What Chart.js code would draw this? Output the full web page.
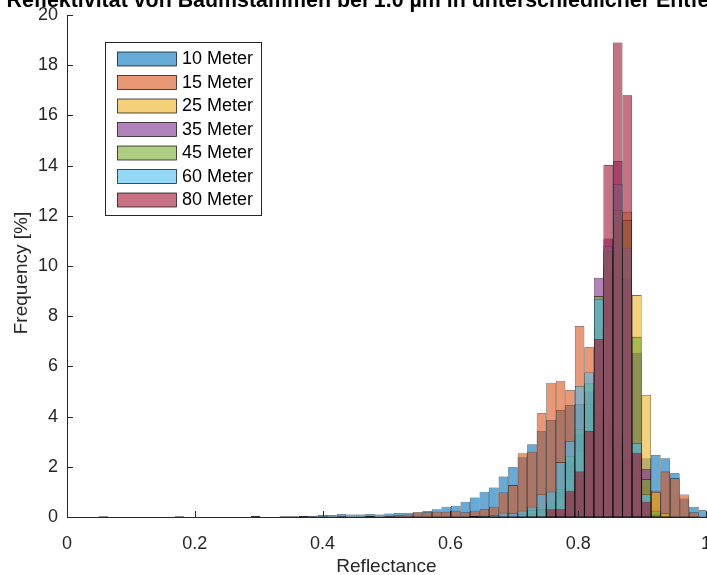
<!DOCTYPE html>
<html>
<head>
<meta charset="utf-8">
<script src="https://cdn.jsdelivr.net/npm/chart.js@4.4.0/dist/chart.umd.min.js"></script>
<style>
  html, body { margin: 0; padding: 0; background: #ffffff; }
  #wrap { width: 707px; height: 575px; }
</style>
</head>
<body>
<div id="wrap"><canvas id="chart" width="707" height="575"></canvas></div>
<script>
// Histogram (pdf-normalised) of trunk reflectance at 1.0 µm, one series per distance.
const titleText = 'Reflektivität von Baumstämmen bei 1.0 µm in unterschiedlicher Entfernung';
const xLabel = 'Reflectance';
const yLabel = 'Frequency [%]';
const seriesLabels = ['10 Meter', '15 Meter', '25 Meter', '35 Meter', '45 Meter', '60 Meter', '80 Meter'];

// Shared bin layout: 64 bins, first left edge and width
const binStart = 0.04925;
const binWidth = 0.01491;

// Bin heights, from the lowest reflectance bin to the highest
const freq10m = [
  0.03, 0, 0, 0, 0, 0, 0, 0,
  0.03, 0, 0, 0, 0, 0, 0, 0,
  0.04, 0, 0, 0.03, 0.03, 0.04, 0.05, 0.08,
  0.08, 0.12, 0.10, 0.10, 0.12, 0.10, 0.14, 0.16,
  0.17, 0.18, 0.24, 0.31, 0.41, 0.45, 0.61, 0.78,
  1.01, 1.18, 1.61, 1.98, 2.38, 2.90, 3.43, 3.86,
  4.26, 4.46, 4.50, 4.50, 4.20, 3.80, 3.30, 2.90,
  2.50, 2.34, 2.47, 2.34, 1.74, 0.74, 0.41, 0.28
];
const freq15m = [
  0, 0, 0, 0, 0, 0, 0, 0,
  0, 0, 0, 0, 0, 0, 0, 0,
  0, 0, 0, 0, 0, 0.02, 0, 0.02,
  0, 0.03, 0, 0, 0.04, 0, 0.05, 0.07,
  0.10, 0.19, 0.19, 0.21, 0.21, 0.25, 0.19, 0.25,
  0.31, 0.41, 0.98, 1.27, 2.54, 2.60, 4.13, 5.35,
  5.43, 5.06, 7.61, 6.76, 5.00, 4.00, 3.00, 2.30,
  1.60, 1.20, 1.05, 1.81, 1.54, 0.90, 0.19, 0
];
const freq25m = [
  0, 0, 0, 0, 0, 0, 0, 0,
  0, 0, 0, 0, 0, 0, 0, 0,
  0, 0, 0, 0, 0, 0, 0, 0,
  0, 0, 0, 0, 0, 0, 0, 0,
  0, 0, 0, 0, 0, 0, 0, 0,
  0, 0, 0, 0, 0, 0.10, 0.20, 0.40,
  0.80, 1.50, 2.60, 4.50, 7.50, 10.00, 11.80, 12.16,
  8.84, 4.86, 0.98, 0.15, 0, 0, 0, 0
];
const freq35m = [
  0, 0, 0, 0, 0, 0, 0, 0,
  0, 0, 0, 0, 0, 0, 0, 0,
  0, 0, 0, 0, 0, 0, 0, 0,
  0, 0, 0, 0, 0, 0, 0, 0,
  0, 0, 0, 0, 0, 0, 0, 0,
  0, 0, 0, 0, 0, 0.15, 0.28, 0.55,
  1.05, 2.20, 3.30, 5.00, 9.53, 11.10, 14.18, 9.50,
  6.52, 1.90, 0.10, 0, 0, 0, 0, 0
];
const freq45m = [
  0, 0, 0, 0, 0, 0, 0, 0,
  0, 0, 0, 0, 0, 0, 0, 0,
  0, 0, 0, 0, 0, 0, 0, 0,
  0, 0, 0, 0, 0, 0, 0, 0,
  0, 0, 0, 0, 0, 0, 0, 0,
  0, 0, 0, 0, 0.10, 0.28, 0.32, 0.61,
  1.10, 2.43, 3.49, 5.33, 8.80, 10.60, 12.23, 11.83,
  7.18, 1.50, 0.25, 0, 0, 0, 0, 0
];
const freq60m = [
  0, 0, 0, 0, 0, 0, 0, 0,
  0, 0, 0, 0, 0, 0, 0, 0,
  0, 0, 0, 0, 0, 0, 0, 0,
  0, 0, 0, 0, 0, 0, 0, 0,
  0, 0, 0, 0, 0, 0, 0, 0.04,
  0.05, 0.07, 0.17, 0.15, 0.25, 0.41, 0.90, 1.01,
  2.18, 3.03, 5.22, 5.76, 8.67, 10.80, 13.27, 10.73,
  2.94, 0.90, 0, 0, 0, 0, 0, 0
];
const freq80m = [
  0, 0, 0, 0, 0, 0, 0, 0,
  0, 0, 0, 0, 0, 0, 0, 0,
  0, 0, 0, 0, 0, 0, 0, 0,
  0, 0, 0, 0, 0, 0, 0, 0,
  0, 0, 0, 0, 0, 0, 0, 0,
  0, 0, 0, 0, 0, 0, 0, 0.31,
  0.31, 1.05, 1.81, 3.43, 7.08, 14.02, 18.90, 16.80,
  2.56, 0.61, 0, 0, 0, 0, 0, 0
];
const seriesFreqs = [freq10m, freq15m, freq25m, freq35m, freq45m, freq60m, freq80m];

// Axis ticks
const xTickValues = [0, 0.2, 0.4, 0.6, 0.8, 1];
const yTickValues = [0, 2, 4, 6, 8, 10, 12, 14, 16, 18, 20];

// Styling
const FONT = "'Liberation Sans', Arial, Helvetica, sans-serif";
const AXIS_COLOR = '#262626';
const FACE_ALPHA = 0.6;
const baseColors = [
  [0, 114, 189], [217, 83, 25], [237, 177, 32], [126, 47, 142],
  [119, 172, 48], [77, 190, 238], [162, 20, 47]
];
const faceColors = baseColors.map(c => `rgba(${c[0]},${c[1]},${c[2]},${FACE_ALPHA})`);
const EDGE_COLOR = 'rgba(0,0,0,0.8)';

const datasets = seriesFreqs.map((vals, k) => ({
  label: seriesLabels[k],
  data: vals.map((v, i) => ({ x: binStart + (i + 0.5) * binWidth, y: v })),
  backgroundColor: faceColors[k],
  borderColor: EDGE_COLOR,
  borderWidth: 0.6,
  borderSkipped: false,
  inflateAmount: 0,
  barPercentage: 1,
  categoryPercentage: 1,
  grouped: false,
  order: seriesFreqs.length - 1 - k,   // later distances are painted on top
  clip: 0
}));

// Inward tick marks on the left and bottom axes
const innerTicks = {
  id: 'innerTicks',
  afterDatasetsDraw(chart) {
    const { ctx, chartArea: a, scales: { x, y } } = chart;
    ctx.save();
    ctx.strokeStyle = AXIS_COLOR;
    ctx.lineWidth = 1;
    ctx.beginPath();
    yTickValues.forEach(v => {
      const py = Math.round(y.getPixelForValue(v)) + 0.5;
      ctx.moveTo(a.left, py);
      ctx.lineTo(a.left + 6, py);
    });
    xTickValues.forEach(v => {
      const px = Math.round(x.getPixelForValue(v)) + 0.5;
      ctx.moveTo(px, a.bottom);
      ctx.lineTo(px, a.bottom - 6);
    });
    ctx.stroke();
    ctx.restore();
  }
};

// Boxed legend in the upper left of the plot area
const boxedLegend = {
  id: 'boxedLegend',
  afterDraw(chart) {
    const { ctx } = chart;
    const left = 105.5, top = 42.5, w = 156, h = 173;
    const rowTop = 59, rowStep = 23.5, swH = 14;
    ctx.save();
    ctx.fillStyle = '#ffffff';
    ctx.fillRect(left, top, w, h);
    ctx.strokeStyle = AXIS_COLOR;
    ctx.lineWidth = 1;
    ctx.strokeRect(left, top, w, h);
    ctx.font = `18px ${FONT}`;
    ctx.textBaseline = 'middle';
    ctx.textAlign = 'left';
    seriesLabels.forEach((lab, k) => {
      const cy = rowTop + k * rowStep;
      ctx.fillStyle = faceColors[k];
      ctx.fillRect(117.5, cy - swH / 2, 59, swH);
      ctx.strokeStyle = 'rgba(0,0,0,0.85)';
      ctx.lineWidth = 0.8;
      ctx.strokeRect(117.5, cy - swH / 2, 59, swH);
      ctx.fillStyle = '#000000';
      ctx.fillText(lab, 182, cy + 0.5);
    });
    ctx.restore();
  }
};

// Title running past the top and right edges, plus the rotated y-axis label
const figureText = {
  id: 'figureText',
  afterDraw(chart) {
    const { ctx } = chart;
    ctx.save();
    ctx.font = `bold 21.4px ${FONT}`;
    ctx.fillStyle = '#000000';
    ctx.textAlign = 'left';
    ctx.textBaseline = 'alphabetic';
    ctx.fillText(titleText, 6.5, 6.5);
    ctx.restore();

    ctx.save();
    ctx.translate(27, 273);
    ctx.rotate(-Math.PI / 2);
    ctx.font = `19px ${FONT}`;
    ctx.fillStyle = AXIS_COLOR;
    ctx.textAlign = 'center';
    ctx.textBaseline = 'alphabetic';
    ctx.fillText(yLabel, 0, 0);
    ctx.restore();
  }
};

new Chart(document.getElementById('chart'), {
  type: 'bar',
  data: { datasets },
  options: {
    responsive: false,
    animation: false,
    devicePixelRatio: 1,
    layout: { padding: { top: 15, right: 1, left: 0, bottom: 0 } },
    plugins: {
      legend: { display: false },
      tooltip: { enabled: false },
      title: { display: false }
    },
    scales: {
      x: {
        type: 'linear',
        min: 0,
        max: 1,
        offset: false,
        bounds: 'ticks',
        grid: { display: false, drawTicks: false },
        border: { display: true, color: AXIS_COLOR, width: 1 },
        ticks: {
          stepSize: 0.2,
          padding: 16,
          color: AXIS_COLOR,
          maxRotation: 0,
          autoSkip: false,
          font: { family: FONT, size: 18 },
          callback: v => String(+Number(v).toFixed(1))
        },
        title: {
          display: true,
          text: xLabel,
          color: AXIS_COLOR,
          font: { family: FONT, size: 19, lineHeight: 0.875 },
          padding: 0
        },
        afterFit(scale) {
          scale.height = 58;
          scale.paddingLeft = 0;
          scale.paddingRight = 0;
        }
      },
      y: {
        min: 0,
        max: 20,
        grid: { display: false, drawTicks: false },
        border: { display: true, color: AXIS_COLOR, width: 1 },
        ticks: {
          stepSize: 2,
          padding: 9,
          color: AXIS_COLOR,
          font: { family: FONT, size: 18 }
        },
        afterFit(scale) {
          scale.width = 67;
          scale.paddingTop = 0;
          scale.paddingBottom = 0;
        }
      }
    }
  },
  plugins: [innerTicks, boxedLegend, figureText]
});
</script>
</body>
</html>
